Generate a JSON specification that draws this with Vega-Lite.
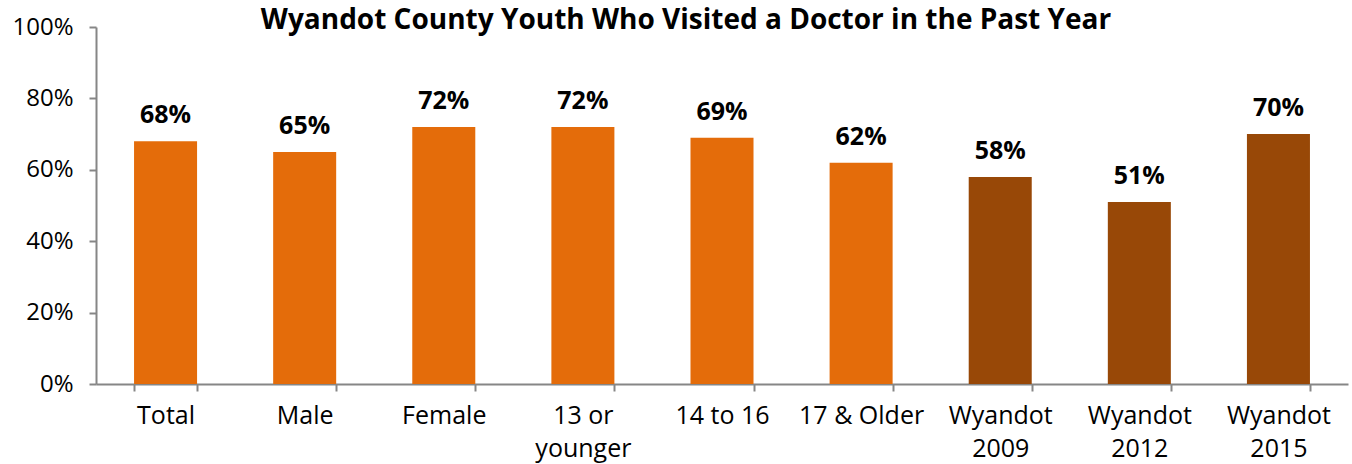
{
  "$schema": "https://vega.github.io/schema/vega-lite/v6.json",
  "autosize": "none",
  "width": 1252,
  "height": 357,
  "padding": {"left": 96, "top": 27, "right": 4, "bottom": 80},
  "background": "white",
  "title": {
    "text": "Wyandot County Youth Who Visited a Doctor in the Past Year",
    "font": "Open Sans",
    "fontSize": 28,
    "fontWeight": "bold",
    "color": "#000000",
    "anchor": "middle",
    "frame": "group",
    "baseline": "alphabetic",
    "offset": 0,
    "dx": -36,
    "dy": 42
  },
  "data": {
    "values": [
      {"group": "Total", "value": 0.68, "type": "subgroup"},
      {"group": "Male", "value": 0.65, "type": "subgroup"},
      {"group": "Female", "value": 0.72, "type": "subgroup"},
      {"group": "13 or younger", "value": 0.72, "type": "subgroup"},
      {"group": "14 to 16", "value": 0.69, "type": "subgroup"},
      {"group": "17 & Older", "value": 0.62, "type": "subgroup"},
      {"group": "Wyandot 2009", "value": 0.58, "type": "year"},
      {"group": "Wyandot 2012", "value": 0.51, "type": "year"},
      {"group": "Wyandot 2015", "value": 0.70, "type": "year"}
    ]
  },
  "encoding": {
    "x": {
      "field": "group",
      "type": "nominal",
      "sort": null,
      "scale": {"paddingInner": 0.547, "paddingOuter": 0.2735},
      "axis": {
        "title": null,
        "labelAngle": 0,
        "labelFont": "Open Sans",
        "labelFontSize": 25,
        "labelColor": "#000000",
        "labelBaseline": "top",
        "labelPadding": 12,
        "labelLineHeight": 33,
        "labelExpr": "datum.label == '13 or younger' ? ['13 or', 'younger'] : (indexof(datum.label, 'Wyandot') == 0 ? split(datum.label, ' ') : datum.label)",
        "domainColor": "#868686",
        "domainWidth": 2,
        "tickColor": "#868686",
        "tickWidth": 2,
        "tickSize": 7,
        "tickBand": "extent",
        "grid": false
      }
    },
    "y": {
      "field": "value",
      "type": "quantitative",
      "scale": {"domain": [0, 1]},
      "axis": {
        "title": null,
        "format": ".0%",
        "values": [0, 0.2, 0.4, 0.6, 0.8, 1],
        "labelFont": "Open Sans",
        "labelFontSize": 24,
        "labelColor": "#000000",
        "labelPadding": 16,
        "domainColor": "#868686",
        "domainWidth": 2,
        "tickColor": "#868686",
        "tickWidth": 2,
        "tickSize": 7,
        "grid": false
      }
    }
  },
  "layer": [
    {
      "mark": {"type": "bar"},
      "encoding": {
        "color": {
          "field": "type",
          "type": "nominal",
          "scale": {"domain": ["subgroup", "year"], "range": ["#E46C0A", "#984807"]},
          "legend": null
        }
      }
    },
    {
      "mark": {
        "type": "text",
        "font": "Open Sans",
        "fontSize": 25,
        "fontWeight": "bold",
        "color": "#000000",
        "baseline": "alphabetic",
        "dy": -18
      },
      "encoding": {
        "text": {"field": "value", "type": "quantitative", "format": ".0%"}
      }
    }
  ],
  "config": {
    "view": {"stroke": null}
  }
}
